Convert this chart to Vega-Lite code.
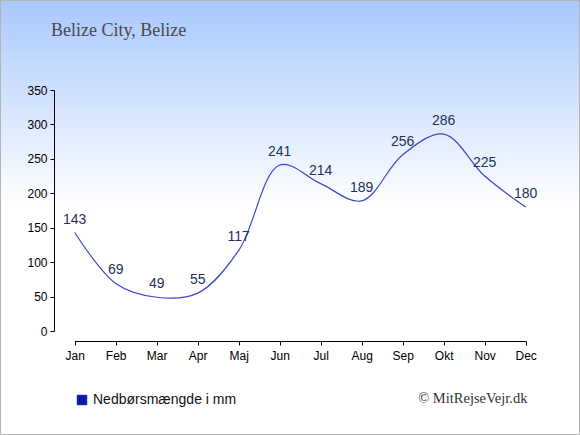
{
  "$schema": "https://vega.github.io/schema/vega-lite/v6.json",
  "width": 580,
  "height": 435,
  "padding": 0,
  "autosize": {"type": "none"},
  "background": "#ffffff",
  "title": {
    "text": "Belize City, Belize",
    "anchor": "start",
    "frame": "group",
    "orient": "top",
    "offset": 0,
    "dx": 51,
    "dy": 54,
    "baseline": "alphabetic",
    "font": "Liberation Serif",
    "fontSize": 18,
    "fontWeight": "normal",
    "color": "#4a4a4a"
  },
  "config": {
    "view": {
      "fill": {
        "gradient": "linear",
        "x1": 0, "y1": 0, "x2": 0, "y2": 1,
        "stops": [
          {"offset": 0, "color": "#a8c8fd"},
          {"offset": 0.47, "color": "#ffffff"},
          {"offset": 1, "color": "#ffffff"}
        ]
      },
      "stroke": "#b4b4b4",
      "strokeWidth": 2
    },
    "axis": {
      "domainColor": "#000000",
      "tickColor": "#000000",
      "tickSize": 4,
      "labelFont": "Liberation Sans",
      "labelFontSize": 12,
      "labelColor": "#000000",
      "grid": false
    }
  },
  "data": {
    "values": [
      {"month": "Jan", "mm": 143},
      {"month": "Feb", "mm": 69},
      {"month": "Mar", "mm": 49},
      {"month": "Apr", "mm": 55},
      {"month": "Maj", "mm": 117},
      {"month": "Jun", "mm": 241},
      {"month": "Jul", "mm": 214},
      {"month": "Aug", "mm": 189},
      {"month": "Sep", "mm": 256},
      {"month": "Okt", "mm": 286},
      {"month": "Nov", "mm": 225},
      {"month": "Dec", "mm": 180}
    ]
  },
  "encoding": {
    "x": {
      "field": "month",
      "type": "ordinal",
      "sort": null,
      "scale": {"type": "point", "range": [74.7, 525.7], "padding": 0},
      "axis": {
        "offset": -94,
        "labelAngle": 0,
        "labelPadding": 5,
        "title": "© MitRejseVejr.dk",
        "titleFont": "Liberation Serif",
        "titleFontSize": 14.5,
        "titleFontWeight": "normal",
        "titleColor": "#333333",
        "titleAlign": "right",
        "titleAnchor": "end",
        "titleBaseline": "alphabetic",
        "titleX": 527,
        "titleY": 61
      }
    },
    "y": {
      "field": "mm",
      "type": "quantitative",
      "scale": {"domain": [0, 350], "range": [331, 90], "nice": false},
      "axis": {
        "offset": -54,
        "values": [0, 50, 100, 150, 200, 250, 300, 350],
        "labelPadding": 3,
        "title": null
      }
    }
  },
  "layer": [
    {
      "mark": {"type": "line", "interpolate": "catmull-rom", "strokeWidth": 1.2},
      "encoding": {
        "stroke": {
          "datum": "Nedbørsmængde i mm",
          "type": "nominal",
          "scale": {"range": ["#3a46c8"]},
          "legend": {
            "orient": "none",
            "legendX": 75,
            "legendY": 393,
            "title": null,
            "padding": 0,
            "symbolType": "square",
            "symbolSize": 100,
            "symbolFillColor": "#0a1aa8",
            "symbolStrokeColor": "#0a1aa8",
            "symbolStrokeWidth": 0.5,
            "labelFont": "Liberation Sans",
            "labelFontSize": 14,
            "labelColor": "#111111",
            "labelOffset": 4
          }
        }
      }
    },
    {
      "mark": {
        "type": "text",
        "dy": -9,
        "baseline": "alphabetic",
        "font": "Liberation Sans",
        "fontSize": 14,
        "color": "#223355"
      },
      "encoding": {
        "text": {"field": "mm", "type": "quantitative"}
      }
    }
  ]
}
